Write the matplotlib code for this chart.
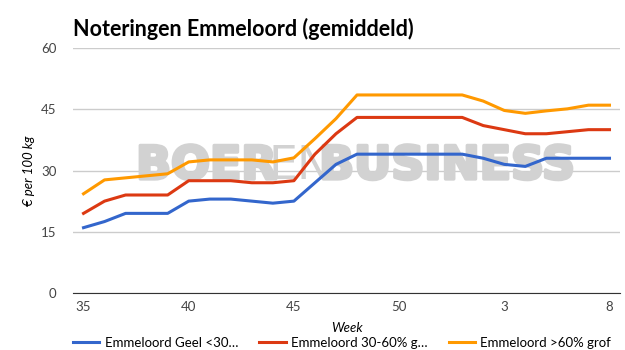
import matplotlib
matplotlib.use('Agg')
import matplotlib.pyplot as plt
import matplotlib.patheffects as pe
import numpy as np

# week numbers, 35..52 then 1..8
weeks = list(range(35, 53)) + list(range(1, 9))
tick_weeks = [35, 40, 45, 50, 3, 8]

geel = [16, 17.5, 19.5, 19.5, 19.5, 22.5, 23, 23, 22.5, 22, 22.5, 27, 31.5, 34,
        34, 34, 34, 34, 34, 33, 31.5, 31, 33, 33, 33, 33]
mid = [19.5, 22.5, 24, 24, 24, 27.5, 27.5, 27.5, 27, 27, 27.5, 34, 39, 43,
       43, 43, 43, 43, 43, 41, 40, 39, 39, 39.5, 40, 40]
grof = [24.3, 27.7, 28.2, 28.7, 29.2, 32.1, 32.6, 32.6, 32.6, 32.1, 33.1, 37.8, 42.7, 48.5,
        48.5, 48.5, 48.5, 48.5, 48.5, 47, 44.7, 44, 44.6, 45.1, 46, 46]

labels = ['Emmeloord Geel <30\u2026', 'Emmeloord 30-60% g\u2026', 'Emmeloord >60% grof']
colors = ['#3366cc', '#dc3912', '#ff9900']

plt.rcParams['font.family'] = ['Lato', 'DejaVu Sans']

fig = plt.figure(figsize=(6.25, 3.5), dpi=100)
ax = fig.add_axes([73/625, 57/350, 547/625, 245/350])

x = np.arange(len(weeks))

# watermark
wm_col = '#d2d2d2'
thick = [pe.withStroke(linewidth=2.5, foreground=wm_col)]
wm = dict(fontsize=33, color=wm_col, va='center', family='DejaVu Sans', zorder=1)
ax.text(2.5, 31, 'BOER', fontweight='bold', ha='left', path_effects=thick, **wm)
ax.text(8.8, 31, 'EN', fontweight='normal', ha='left', **wm)
ax.text(11.2, 31, 'BUSINESS', fontweight='bold', ha='left', path_effects=thick, **wm)

for vals, c, lab in zip([geel, mid, grof], colors, labels):
    ax.plot(x, vals, color=c, lw=2.2, label=lab, zorder=3)

ax.set_xlim(-0.5, 25.5)
ax.set_ylim(0, 60)
ax.set_yticks([0, 15, 30, 45, 60])
ax.set_xticks([weeks.index(w) for w in tick_weeks])
ax.set_xticklabels([str(w) for w in tick_weeks])
ax.grid(axis='y', color='#cccccc', lw=1, zorder=0)
ax.set_axisbelow(True)
for s in ['top', 'right', 'left']:
    ax.spines[s].set_visible(False)
ax.spines['bottom'].set_color('#333333')
ax.tick_params(axis='both', length=0, labelsize=9.5, colors='#444444')
ax.tick_params(axis='y', pad=12)
ax.tick_params(axis='x', pad=6)

ax.set_ylabel('\u20ac per 100 kg', fontstyle='italic', fontsize=9.5, labelpad=4)
ax.set_xlabel('Week', fontstyle='italic', fontsize=9.5, labelpad=6)

fig.text(73/625, 1 - 29/350, 'Noteringen Emmeloord (gemiddeld)', fontsize=15.5,
         fontweight='bold', va='center', ha='left', color='#000000')

fig.legend(loc='center left', bbox_to_anchor=(73/625, 1 - 343/350), ncol=3, frameon=False,
           fontsize=9.5, handlelength=2.0, handletextpad=0.4, columnspacing=1.6,
           borderpad=0, borderaxespad=0)

fig.savefig('out.png', dpi=100)
